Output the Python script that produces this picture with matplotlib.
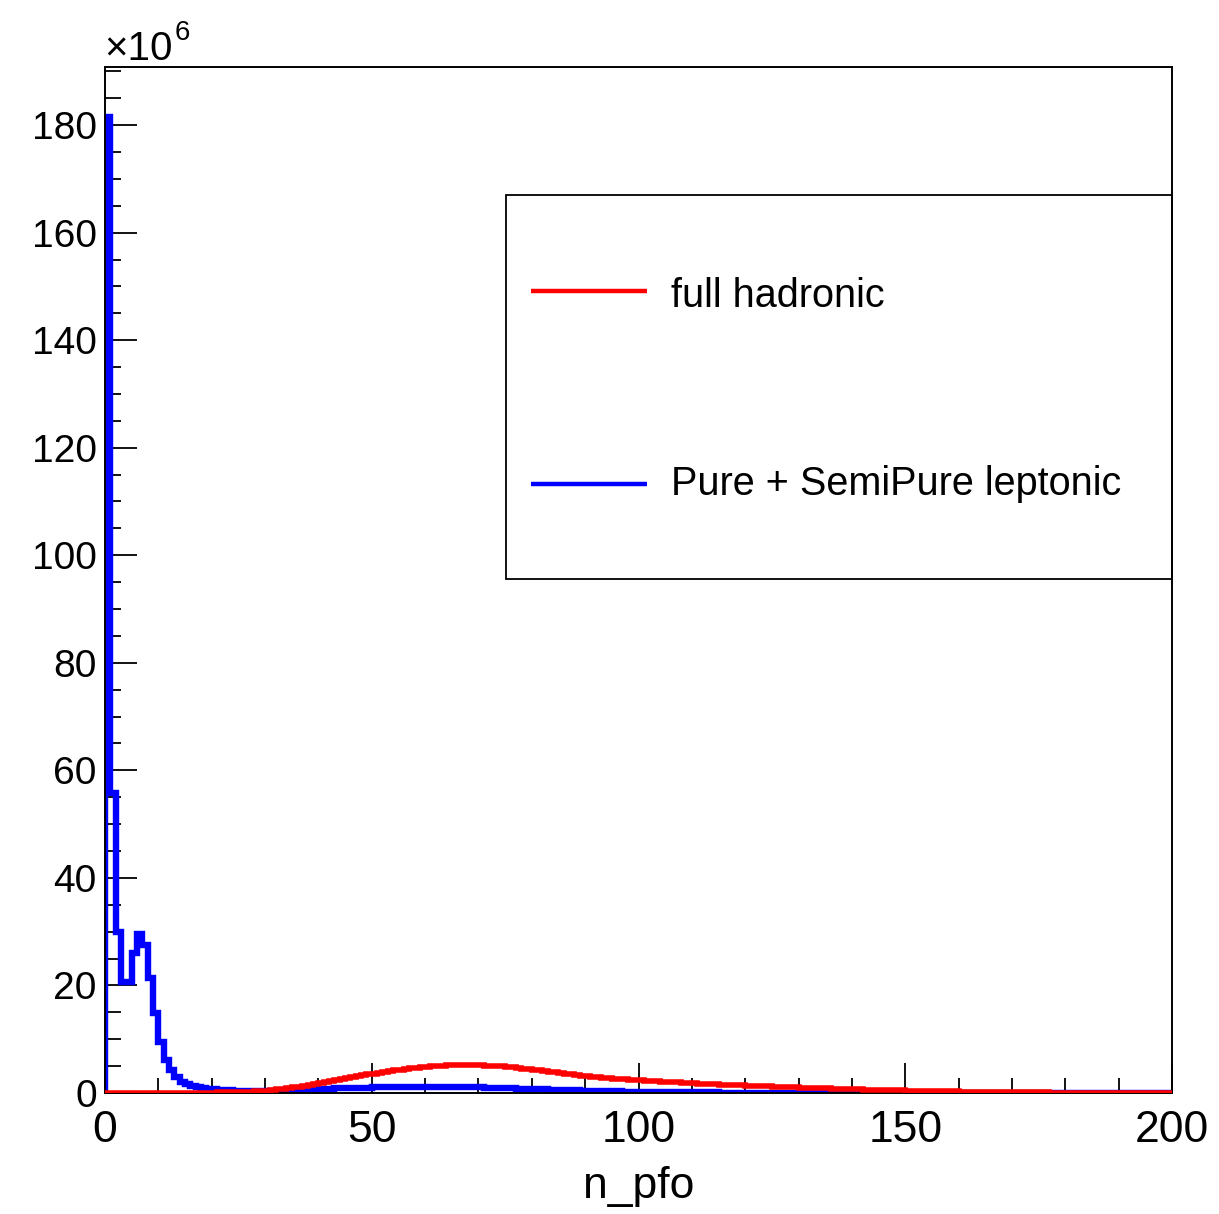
import numpy as np
import matplotlib.pyplot as plt
from matplotlib.ticker import MultipleLocator
from matplotlib.patches import Rectangle
from matplotlib.lines import Line2D

plt.rcParams['font.family'] = ['Liberation Sans', 'DejaVu Sans']

# n_pfo histogram, 1 bin per unit from 0 to 200
bin_edges = np.arange(0, 201, 1)

# entries per bin, in units of 1e6
leptonic = [
    181.5, 55.7, 30.0, 20.7, 20.7, 26.1, 29.6, 27.6, 21.3, 14.8,
    9.5, 6.1, 4.3, 2.9, 2.1, 1.6, 1.3, 1.06, 0.87, 0.75,
    0.68, 0.60, 0.53, 0.48, 0.44, 0.41, 0.39, 0.38, 0.38, 0.38,
    0.39, 0.41, 0.43, 0.46, 0.49, 0.52, 0.56, 0.60, 0.64, 0.68,
    0.72, 0.76, 0.80, 0.84, 0.87, 0.90, 0.93, 0.96, 0.99, 1.01,
    1.03, 1.05, 1.07, 1.09, 1.10, 1.11, 1.12, 1.13, 1.14, 1.14,
    1.14, 1.14, 1.14, 1.13, 1.12, 1.11, 1.10, 1.09, 1.07, 1.05,
    1.03, 1.01, 0.98, 0.95, 0.92, 0.89, 0.86, 0.83, 0.80, 0.76,
    0.73, 0.70, 0.66, 0.63, 0.60, 0.57, 0.54, 0.51, 0.48, 0.45,
    0.42, 0.40, 0.37, 0.35, 0.33, 0.31, 0.29, 0.27, 0.25, 0.24,
    0.22, 0.21, 0.20, 0.19, 0.18, 0.17, 0.16, 0.15, 0.14, 0.13,
    0.12, 0.12, 0.11, 0.10, 0.10, 0.09, 0.09, 0.08, 0.08, 0.07,
    0.07, 0.07, 0.06, 0.06, 0.06, 0.05, 0.05, 0.05, 0.05, 0.04,
    0.04, 0.04, 0.04, 0.04, 0.03, 0.03, 0.03, 0.03, 0.03, 0.03,
    0.02, 0.02, 0.02, 0.02, 0.02, 0.02, 0.02, 0.02, 0.02, 0.02,
    0.01, 0.01, 0.01, 0.01, 0.01, 0.01, 0.01, 0.01, 0.01, 0.01,
    0.01, 0.01, 0.01, 0.01, 0.01, 0.01, 0.01, 0.01, 0.01, 0.01,
    0.0, 0.0, 0.0, 0.0, 0.0, 0.0, 0.0, 0.0, 0.0, 0.0,
    0.0, 0.0, 0.0, 0.0, 0.0, 0.0, 0.0, 0.0, 0.0, 0.0,
    0.0, 0.0, 0.0, 0.0, 0.0, 0.0, 0.0, 0.0, 0.0, 0.0,
]

hadronic = [
    0.0, 0.0, 0.0, 0.0, 0.0, 0.0, 0.0, 0.0, 0.0, 0.0,
    0.01, 0.01, 0.02, 0.02, 0.03, 0.03, 0.04, 0.05, 0.06, 0.07,
    0.08, 0.10, 0.12, 0.14, 0.16, 0.19, 0.22, 0.26, 0.31, 0.37,
    0.45, 0.55, 0.66, 0.78, 0.91, 1.05, 1.20, 1.36, 1.53, 1.71,
    1.89, 2.07, 2.25, 2.43, 2.61, 2.79, 2.96, 3.13, 3.30, 3.46,
    3.62, 3.78, 3.93, 4.08, 4.22, 4.35, 4.48, 4.60, 4.71, 4.81,
    4.90, 4.98, 5.05, 5.11, 5.15, 5.18, 5.20, 5.21, 5.20, 5.18,
    5.15, 5.11, 5.06, 5.00, 4.93, 4.85, 4.76, 4.66, 4.55, 4.43,
    4.31, 4.19, 4.06, 3.94, 3.82, 3.70, 3.58, 3.46, 3.35, 3.24,
    3.13, 3.03, 2.93, 2.84, 2.75, 2.67, 2.59, 2.52, 2.45, 2.39,
    2.33, 2.27, 2.21, 2.16, 2.11, 2.06, 2.01, 1.96, 1.91, 1.86,
    1.81, 1.76, 1.72, 1.67, 1.63, 1.58, 1.54, 1.50, 1.46, 1.42,
    1.38, 1.34, 1.30, 1.26, 1.22, 1.18, 1.14, 1.11, 1.07, 1.04,
    1.00, 0.97, 0.94, 0.90, 0.87, 0.84, 0.81, 0.78, 0.75, 0.72,
    0.69, 0.66, 0.64, 0.61, 0.59, 0.56, 0.54, 0.51, 0.49, 0.47,
    0.45, 0.43, 0.41, 0.39, 0.37, 0.35, 0.33, 0.31, 0.30, 0.28,
    0.27, 0.25, 0.24, 0.23, 0.21, 0.20, 0.19, 0.18, 0.17, 0.16,
    0.15, 0.14, 0.13, 0.12, 0.11, 0.11, 0.10, 0.09, 0.09, 0.08,
    0.08, 0.07, 0.07, 0.06, 0.06, 0.05, 0.05, 0.05, 0.04, 0.04,
    0.04, 0.03, 0.03, 0.03, 0.03, 0.02, 0.02, 0.02, 0.02, 0.02,
]

labels = ['full hadronic', 'Pure + SemiPure leptonic']
colors = ['#ff0000', '#0000ff']


def main():
    W, H = 1219, 1214
    fig = plt.figure(figsize=(W / 100, H / 100), dpi=100)
    ax = fig.add_axes([105 / W, 1 - 1093 / H, 1067 / W, 1026 / H])

    ax.stairs(leptonic, bin_edges, color=colors[1], lw=4.6, zorder=2)
    ax.stairs(hadronic, bin_edges, color=colors[0], lw=4.0, zorder=3)

    ax.set_xlim(0, 200)
    ax.set_ylim(0, 190.8)

    # ROOT-like axes: ticks inside, only on left and bottom
    ax.xaxis.set_major_locator(MultipleLocator(50))
    ax.xaxis.set_minor_locator(MultipleLocator(10))
    ax.yaxis.set_major_locator(MultipleLocator(20))
    ax.yaxis.set_minor_locator(MultipleLocator(5))
    ax.tick_params(which='both', direction='in', top=False, right=False, width=1.3)
    ax.tick_params(axis='y', which='major', length=23, labelsize=28, pad=6)
    ax.tick_params(axis='y', which='minor', length=11.5)
    ax.tick_params(axis='x', which='major', length=21.5, labelsize=32, pad=12)
    ax.tick_params(axis='x', which='minor', length=11)
    for s in ax.spines.values():
        s.set_linewidth(1.4)

    ax.set_xlabel('n_pfo', fontsize=32, labelpad=11)

    # exponent of the y axis
    fig.text(104 / W, 1 - 60 / H, '\u00d710', fontsize=29, ha='left', va='baseline')
    fig.text(175 / W, 1 - 40 / H, '6', fontsize=20, ha='left', va='baseline')

    # legend box
    ax.add_patch(Rectangle((0.3758, 0.501), 0.6242, 0.3742, transform=ax.transAxes,
                           fill=False, lw=1.3, ec='black', clip_on=False, zorder=5))
    legend_y = [0.7817, 0.5936]
    text_base = [0.7664, 0.5828]
    for lab, c, y, yb in zip(labels, colors, legend_y, text_base):
        ax.add_line(Line2D([0.3993, 0.508], [y, y], transform=ax.transAxes, color=c,
                           lw=3.2, solid_capstyle='butt', zorder=6))
        ax.text(0.5305, yb, lab, transform=ax.transAxes, fontsize=28.5,
                ha='left', va='baseline', zorder=6)

    fig.savefig('out.png', dpi=100)


if __name__ == '__main__':
    main()
